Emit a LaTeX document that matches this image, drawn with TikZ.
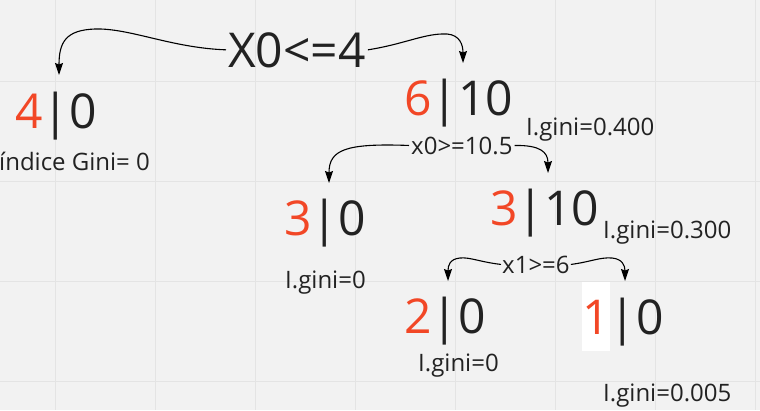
\documentclass[tikz,border=0pt]{standalone}
\usepackage{fontspec}
\setmainfont{Open Sans}
\usetikzlibrary{arrows.meta}
\definecolor{bgc}{HTML}{F2F2F2}
\definecolor{gridc}{HTML}{E4E4E4}
\definecolor{txt}{HTML}{222222}
\definecolor{redc}{HTML}{F24726}
\tikzset{
  big/.style={anchor=base west, inner sep=0pt, text=txt, font=\fontsize{48}{52}\selectfont},
  small/.style={anchor=base west, inner sep=0pt, text=txt, font=\fontsize{24}{28}\selectfont},
  conn/.style={draw=black, line width=1.1pt, -{Stealth[length=12pt,width=8pt,inset=1.5pt]}},
}
\newcommand{\rd}[1]{\textcolor{redc}{#1}}
\begin{document}
\begin{tikzpicture}[x=1pt,y=-1pt]
\fill[bgc] (0,0) rectangle (760,410);
\useasboundingbox (0,0) rectangle (760,410);
\foreach \gx in {55,155,...,755} \draw[gridc, line width=1pt] (\gx,0) -- (\gx,410);
\foreach \gy in {81,181,281,381} \draw[gridc, line width=1pt] (0,\gy) -- (760,\gy);
% white box behind the 1
\fill[white] (582,282) rectangle (610,351);
% root split
\node[big] (c0) at (228,67) {X0<=4};
% level 1
\node[big] (n4) at (15,128) {\rd{4}|0};
\node[small] (g4) at (-1,170) {índice Gini= 0};
\node[big] (n6) at (404,115) {\rd{6}|10};
\node[small] (g6) at (526,135) {I.gini=0.400};
\node[small] (c1) at (411,154) {x0>=10.5};
% level 2
\node[big] (n3a) at (284,235) {\rd{3}|0};
\node[small] (g3a) at (285,288) {I.gini=0};
\node[big] (n3b) at (490,225) {\rd{3}|10};
\node[small] (g3b) at (603,238) {I.gini=0.300};
\node[small] (c2) at (502,273) {x1>=6};
% level 3
\node[big] (n2) at (404,333) {\rd{2}|0};
\node[small] (g2) at (418,371) {I.gini=0};
\node[big] (n1) at (582,334) {\rd{1}|0};
\node[small] (g1) at (603,401) {I.gini=0.005};
% arrow tips
\coordinate (t4) at (59,75);
\coordinate (t6) at (463,63);
\coordinate (t3a) at (329,183);
\coordinate (t3b) at (548,173);
\coordinate (t2) at (448,281);
\coordinate (t1) at (625,281);
% connectors
\draw[conn] ([xshift=-2pt]c0.west) .. controls +(-55,-2) and (130,28) .. (95,29) .. controls (66,30) and (59,42) .. (t4);
\draw[conn] ([xshift=2pt]c0.east) .. controls (405,44) and (425,33) .. (447,34) .. controls (460,35) and (463,45) .. (t6);
\draw[conn] ([xshift=-2pt]c1.west) .. controls (345,143) and (329,150) .. (t3a);
\draw[conn] ([xshift=2pt]c1.east) .. controls (540,145) and (548,152) .. (t3b);
\draw[conn] ([xshift=-1pt]c2.west) .. controls (480,262) and (470,257) .. (460,258) .. controls (450,259) and (448,265) .. (t2);
\draw[conn] ([xshift=1pt]c2.east) .. controls (590,262) and (600,257) .. (612,258) .. controls (622,259) and (625,265) .. (t1);
\end{tikzpicture}
\end{document}
